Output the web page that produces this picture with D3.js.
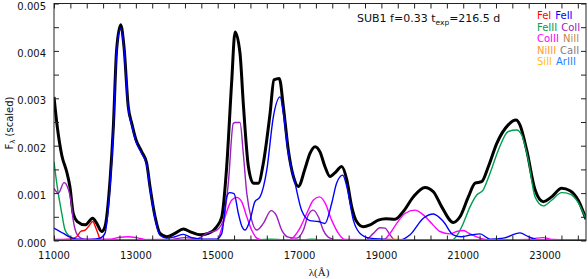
<!DOCTYPE html>
<html><head><meta charset="utf-8">
<script src="https://cdn.jsdelivr.net/npm/d3@7"></script>
<style>body{margin:0;background:#fff}svg{display:block}text{font-family:"DejaVu Sans",Verdana,sans-serif}</style>
</head><body><svg id="c" width="588" height="279"></svg>
<script>
// ---- data (wavelength in Å, scaled flux) ----
const totalWave = [11000,11080,11190,11310,11390,11470,11570,11760,11945,12045,12165,12245,12370,12450,12530,12630,12710,12815,12900,13005,13145,13265,13345,13470,13590,13755,13955,14160,14365,14570,14770,14975,15100,15220,15340,15425,15545,15625,15750,15870,15995,16115,16280,16375,16505,16605,16725,16850,16970,17135,17255,17380,17500,17620,17745,17890,18030,18155,18275,18395,18560,18725,18925,19110,19335,19535,19780,20065,20270,20475,20755,20920,21125,21290,21450,21615,21820,22100,22290,22385,22550,22755,22955,23160,23405,23610,23810,24000];
const totalFlux = [0.00303,0.0024,0.0018,0.00145,0.00113,0.00057,0.0004,0.00033,0.00047,0.00036,0.00019,0.00029,0.00128,0.0024,0.00402,0.00455,0.00409,0.00282,0.00247,0.00212,0.00187,0.00163,0.00114,0.0005,0.00015,0.00008,0.00015,0.00024,0.00017,0.00012,0.00015,0.00029,0.0005,0.00156,0.00332,0.0044,0.00395,0.0029,0.00156,0.00121,0.00121,0.00163,0.00268,0.00339,0.00342,0.00282,0.00191,0.00135,0.00114,0.00152,0.00184,0.00198,0.00187,0.00156,0.00135,0.00145,0.00156,0.00128,0.00071,0.0004,0.00029,0.00033,0.00043,0.00046,0.00045,0.00061,0.00092,0.00112,0.00103,0.00071,0.00038,0.0005,0.00092,0.00121,0.00124,0.00156,0.00205,0.00244,0.00254,0.00244,0.00191,0.00107,0.00082,0.00092,0.0011,0.00105,0.00085,0.00045];

const feIWave = [11000,11390,11555,11650,11760,11840,11945,12025,12085,12125,12300,24000];
const feIFlux = [0.00001,0.00003,0.00008,0.00019,0.00022,0.00029,0.0004,0.00026,0.00012,0.00003,0.00001,0.00001];

const feIIWave = [11000,11230,11390,11555,11880,12125,12245,12330,12450,12530,12630,12710,12815,12900,13005,13145,13265,13345,13470,13590,13755,13955,14160,14365,14650,14975,15100,15220,15290,15400,15505,15590,15670,15790,15910,16035,16200,16360,16525,16605,16725,16890,17050,17255,17460,17620,17785,17905,18055,18155,18315,18480,18725,19050,19455,19700,20025,20270,20515,20755,20960,21205,21410,21655,21980,22385,22590,22875,24000];
const feIIFlux = [0.00026,0.00015,0.00007,0.00003,0.00002,0.00005,0.00015,0.00071,0.00233,0.00398,0.00448,0.00405,0.00278,0.00243,0.00208,0.00183,0.00159,0.0011,0.00046,0.00011,0.00005,0.00008,0.00013,0.00006,0.00003,0.00003,0.00015,0.00092,0.00101,0.00099,0.00057,0.0003,0.00022,0.00043,0.00082,0.00092,0.00149,0.00261,0.00303,0.00268,0.00184,0.00121,0.00064,0.00042,0.0004,0.00036,0.00078,0.00121,0.00138,0.00114,0.00043,0.00015,0.00005,0.00003,0.00001,0.00012,0.00047,0.00056,0.0004,0.00012,0.00008,0.00012,0.00014,0.00003,0.00005,0.00016,0.00008,0.00001,0.00001];

const feIIIWave = [11000,11080,11190,11270,11390,11550,16000,16300,16600,17100,17300,17500,20720,20880,21000,21165,21330,21490,21655,21860,22100,22305,22425,22590,22755,22955,23160,23405,23610,23810,24000];
const feIIIFlux = [0.00166,0.00113,0.00057,0.00022,0.00008,0.00001,0.00001,0.00003,0.00001,0.00001,0.00003,0.00001,0.00001,0.00015,0.00036,0.00071,0.00096,0.00107,0.00142,0.00191,0.0023,0.00233,0.00223,0.0017,0.00092,0.00073,0.00085,0.00101,0.00098,0.0008,0.00045];

const coIIWave = [11000,11105,11245,11325,11410,11470,11570,11715,12000,13800,14200,14500,14730,14975,15140,15260,15380,15425,15545,15625,15710,15830,15955,16115,16305,16425,16565,16725,16930,17095,17215,17335,17460,17580,17745,17950,18600,18805,18965,19090,19210,19335,24000];
const coIIFlux = [0.0011,0.001,0.00122,0.00114,0.00085,0.00043,0.00012,0.00003,0.00001,0.00002,0.00006,0.00004,0.00015,0.00022,0.00043,0.00121,0.00247,0.00249,0.00249,0.00184,0.001,0.00043,0.00022,0.00036,0.00063,0.00054,0.00022,0.00007,0.00005,0.00022,0.00054,0.00064,0.0005,0.00022,0.00005,0.00001,0.00001,0.00015,0.00027,0.00026,0.00012,0.00001,0];

const coIIIWave = [11000,12370,12615,12815,13020,13300,15000,15060,15180,15340,15465,15585,15710,15830,15955,16100,16700,16850,17010,17175,17335,17485,17620,17785,17950,18110,19000,19090,19210,19375,19575,19820,20025,20230,20430,20675,20840,21000,21165,21410,21700,22600,22795,22955,23200,24000];
const coIIIFlux = [0.00002,0.00003,0.00007,0.00008,0.00006,0.00001,0.00002,0.00015,0.0005,0.00085,0.00091,0.00082,0.0005,0.00022,0.00005,0.00001,0.00001,0.00007,0.00026,0.00057,0.00085,0.00092,0.0008,0.00043,0.00015,0.00002,0.00001,0.00003,0.00015,0.00036,0.00057,0.00064,0.00054,0.00036,0.00019,0.00014,0.00019,0.00021,0.00014,0.00005,0.00001,0.00002,0.00005,0.00006,0.00002,0.00001];

const niIIWave = [11000,24000];           const niIIFlux = [0.00001,0.00001];
const niIIIWave = [11000,19000,19300,19600,24000]; const niIIIFlux = [0.00001,0.00001,0.00003,0.00001,0.00001];
const caIIWave = [11000,24000];           const caIIFlux = [0.000005,0.000005];
const siIIWave = [11000,24000];           const siIIFlux = [0.000005,0.000005];
const arIIIWave = [11000,24000];          const arIIIFlux = [0.000005,0.000005];

const xTicksMajor = [11000,13000,15000,17000,19000,21000,23000];
const yTicksMajor = [0,0.001,0.002,0.003,0.004,0.005];
const legendRows = [["FeI","FeII"],["FeIII","CoII"],["CoIII","NiII"],["NiIII","CaII"],["SiII","ArIII"]];
const legendColors = {FeI:"#ff0000",FeII:"#0000ff",FeIII:"#00a050",CoII:"#9a1fc0",CoIII:"#ff00ff",NiII:"#c08a50",NiIII:"#ff9a30",CaII:"#808080",SiII:"#ffc020",ArIII:"#1e7fff"};

// ---- layout ----
const L=54, R=586, T=3.5, B=240.5;
const svg = d3.select("#c");
const x = d3.scaleLinear().domain([11000,24000]).range([L,R]);
const y = d3.scaleLinear().domain([0,0.005]).range([B,T]);
const line = d3.line().x(d=>x(d[0])).y(d=>y(d[1])).curve(d3.curveMonotoneX);
const zip=(a,b)=>a.map((v,i)=>[v,b[i]]);

svg.append("clipPath").attr("id","cp").append("rect").attr("x",L).attr("y",T).attr("width",R-L).attr("height",B-T);
const g = svg.append("g").attr("clip-path","url(#cp)");

g.append("path").attr("d",line(zip(totalWave,totalFlux))).attr("fill","none").attr("stroke","#000").attr("stroke-width",3).attr("stroke-linejoin","round");
const series = [
  [feIIIWave,feIIIFlux,legendColors.FeIII],
  [feIWave,feIFlux,legendColors.FeI],
  [coIIWave,coIIFlux,legendColors.CoII],
  [coIIIWave,coIIIFlux,legendColors.CoIII],
  [feIIWave,feIIFlux,legendColors.FeII],
  [niIIWave,niIIFlux,legendColors.NiII],
  [niIIIWave,niIIIFlux,legendColors.NiIII],
  [caIIWave,caIIFlux,legendColors.CaII],
  [siIIWave,siIIFlux,legendColors.SiII],
  [arIIIWave,arIIIFlux,"#104080"]
];
series.forEach(s=>{
  g.append("path").attr("d",line(zip(s[0],s[1]))).attr("fill","none").attr("stroke",s[2]).attr("stroke-width",1.4);
});

// ---- axes (inward ticks on all sides) ----
const xMinor = d3.range(11000,24001,400);
const yMinor = d3.range(0,0.00501,0.0005);
const ax = svg.append("g");
const tickLen=5;
const axB = d3.axisBottom(x).tickValues(xMinor).tickSize(-tickLen).tickFormat("");
const axT = d3.axisTop(x).tickValues(xMinor).tickSize(-tickLen).tickFormat("");
const axL = d3.axisLeft(y).tickValues(yMinor).tickSize(-tickLen).tickFormat("");
const axR = d3.axisRight(y).tickValues(yMinor).tickSize(-tickLen).tickFormat("");
ax.append("g").attr("transform",`translate(0,${B})`).call(axB);
ax.append("g").attr("transform",`translate(0,${T})`).call(axT);
ax.append("g").attr("transform",`translate(${L},0)`).call(axL);
ax.append("g").attr("transform",`translate(${R},0)`).call(axR);
ax.selectAll(".domain").remove();
ax.selectAll("line").attr("stroke","#222").attr("stroke-width",1);
svg.append("rect").attr("x",L).attr("y",T).attr("width",R-L).attr("height",B-T).attr("fill","none").attr("stroke","#222").attr("stroke-width",1);

svg.selectAll(".xl").data(xTicksMajor).enter().append("text")
  .attr("x",d=>x(d)).attr("y",259).attr("text-anchor","middle").attr("font-size",10).attr("fill","#111").text(d=>d);
svg.selectAll(".yl").data(yTicksMajor).enter().append("text")
  .attr("x",46).attr("y",d=>y(d)+6).attr("text-anchor","end").attr("font-size",10).attr("fill","#111").text(d=>d.toFixed(3));

// axis titles
const yt = svg.append("text").attr("transform","translate(13,123) rotate(-90)").attr("text-anchor","middle").attr("font-size",10).attr("fill","#111");
yt.append("tspan").text("F");
yt.append("tspan").attr("font-size",7).attr("dy",2).text("λ");
yt.append("tspan").attr("dy",-2).text(" (scaled)");
svg.append("text").attr("x",319).attr("y",276).attr("text-anchor","middle").attr("font-size",11)
  .style("font-family","'Liberation Serif','Times New Roman',serif").attr("fill","#111").text("λ(Å)");

// annotation
const ann = svg.append("text").attr("x",357).attr("y",22).attr("font-size",11).attr("fill","#111");
ann.append("tspan").text("SUB1 f=0.33 t");
ann.append("tspan").attr("font-size",7.5).attr("dy",3).text("exp");
ann.append("tspan").attr("dy",-3).text("=216.5 d");

// legend
legendRows.forEach((r,i)=>{
  const t = svg.append("text").attr("x",537).attr("y",19+i*11.5).attr("font-size",10);
  t.append("tspan").attr("fill",legendColors[r[0]]).text(r[0]);
  t.append("tspan").attr("fill",legendColors[r[1]]).attr("dx",4).text(r[1]);
});
</script></body></html>
